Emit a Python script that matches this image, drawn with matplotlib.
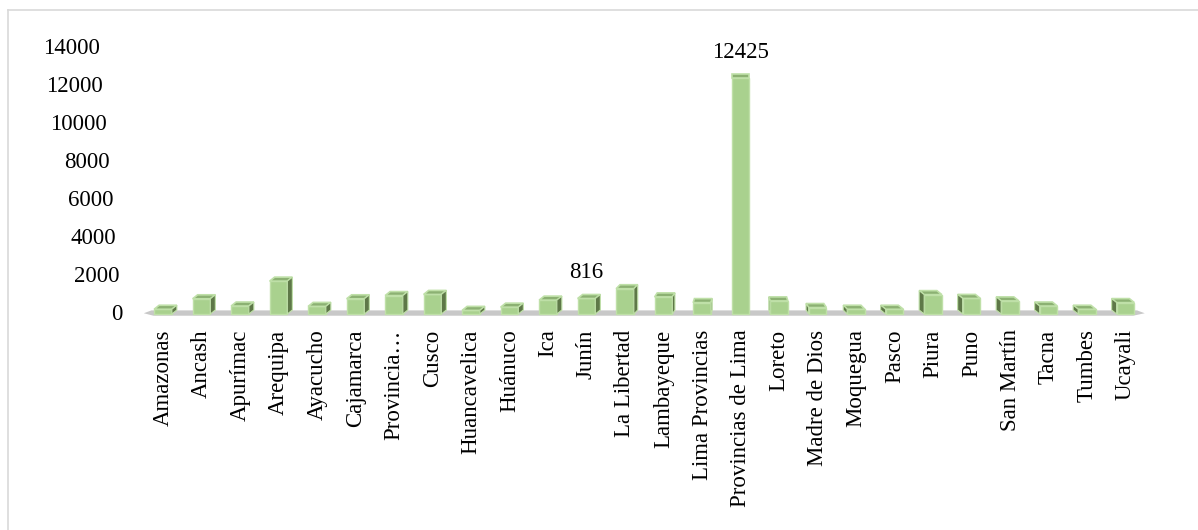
import numpy as np
import matplotlib
matplotlib.use("Agg")
import matplotlib.pyplot as plt
from matplotlib.patches import Polygon
from matplotlib.lines import Line2D

regiones = ["Amazonas", "Ancash", "Apurímac", "Arequipa", "Ayacucho", "Cajamarca",
            "Provincia…", "Cusco", "Huancavelica", "Huánuco", "Ica", "Junín",
            "La Libertad", "Lambayeque", "Lima Provincias", "Provincias de Lima",
            "Loreto", "Madre de Dios", "Moquegua", "Pasco", "Piura", "Puno",
            "San Martín", "Tacna", "Tumbes", "Ucayali"]
valores = [250, 800, 420, 1730, 400, 800, 970, 1030, 190, 360, 730, 816,
           1330, 900, 600, 12425, 690, 340, 250, 250, 1020, 820, 690, 420,
           250, 600]
etiquetas = {"Junín": 816, "Provincias de Lima": 12425}
yticks = [0, 2000, 4000, 6000, 8000, 10000, 12000, 14000]

plt.rcParams['font.family'] = ['Liberation Serif', 'DejaVu Serif']
fs = 16.5

W, H = 1198, 530
fig = plt.figure(figsize=(W / 100, H / 100), dpi=100)
ax = fig.add_axes([143.75 / W, (H - 319.7) / H, 1001 / W, (319.7 - 48) / H])
ax.set_xlim(-0.5, 25.5)
ax.set_ylim(-300, 14000)
for s in ax.spines.values():
    s.set_visible(False)

# escala en pixeles para simular la profundidad 3D
px_x = 1001 / 26.0
px_y = (319.7 - 48) / 14300.0

x = np.arange(len(regiones))
w = 0.46
frente = '#a9d18e'
tapa = '#8cb173'
lado = '#5e7848'
borde = '#bfe0a8'

# piso gris
piso = Polygon([(-0.5, 40), (-0.25, -90), (25.2, -90), (25.5, 40),
                (25.3, 190), (-0.3, 190)], closed=True,
               facecolor='#c8c8c8', edgecolor='none', zorder=1)
ax.add_patch(piso)

barras = ax.bar(x, valores, width=w, color=frente, edgecolor=borde,
                linewidth=1.0, zorder=3)

for i, (xi, v) in enumerate(zip(x, valores)):
    dxp = float(np.clip((15 - i) * 1.3, -5, 5))
    dx = dxp / px_x
    dy = 4 / px_y
    x0, x1 = xi - w / 2, xi + w / 2
    ax.add_patch(Polygon([(x0, v), (x1, v), (x1 + dx, v + dy), (x0 + dx, v + dy)],
                         closed=True, facecolor=tapa, edgecolor=borde,
                         linewidth=1.2, zorder=4))
    if abs(dxp) > 0.5:
        xs = x1 if dx > 0 else x0
        ax.add_patch(Polygon([(xs, 0), (xs, v), (xs + dx, v + dy), (xs + dx, dy)],
                             closed=True, facecolor=lado, edgecolor=borde,
                             linewidth=0.8, zorder=4))

for nombre, v in etiquetas.items():
    i = regiones.index(nombre)
    ax.annotate(str(v), (x[i], v), xytext=(0, 11), textcoords='offset points',
                ha='center', va='bottom', fontsize=fs, color='black')

# eje y con etiquetas inclinadas como en la vista en perspectiva
ax.set_yticks([])
for t in yticks:
    xr = -1.039 - 0.6 * t / 14000
    ax.text(xr, t, str(t), ha='right', va='center', fontsize=fs, color='black')

ax.set_xticks(x)
ax.set_xticklabels(regiones, rotation=90, fontsize=fs, va='top', ha='center')
ax.tick_params(axis='x', length=0, pad=7)

# marco del gráfico
fig.add_artist(Line2D([8 / W, 1], [1 - 10 / H, 1 - 10 / H], color='#d9d9d9', lw=1.2))
fig.add_artist(Line2D([8 / W, 8 / W], [0, 1 - 10 / H], color='#d9d9d9', lw=1.2))

fig.savefig("out.png", dpi=100)
